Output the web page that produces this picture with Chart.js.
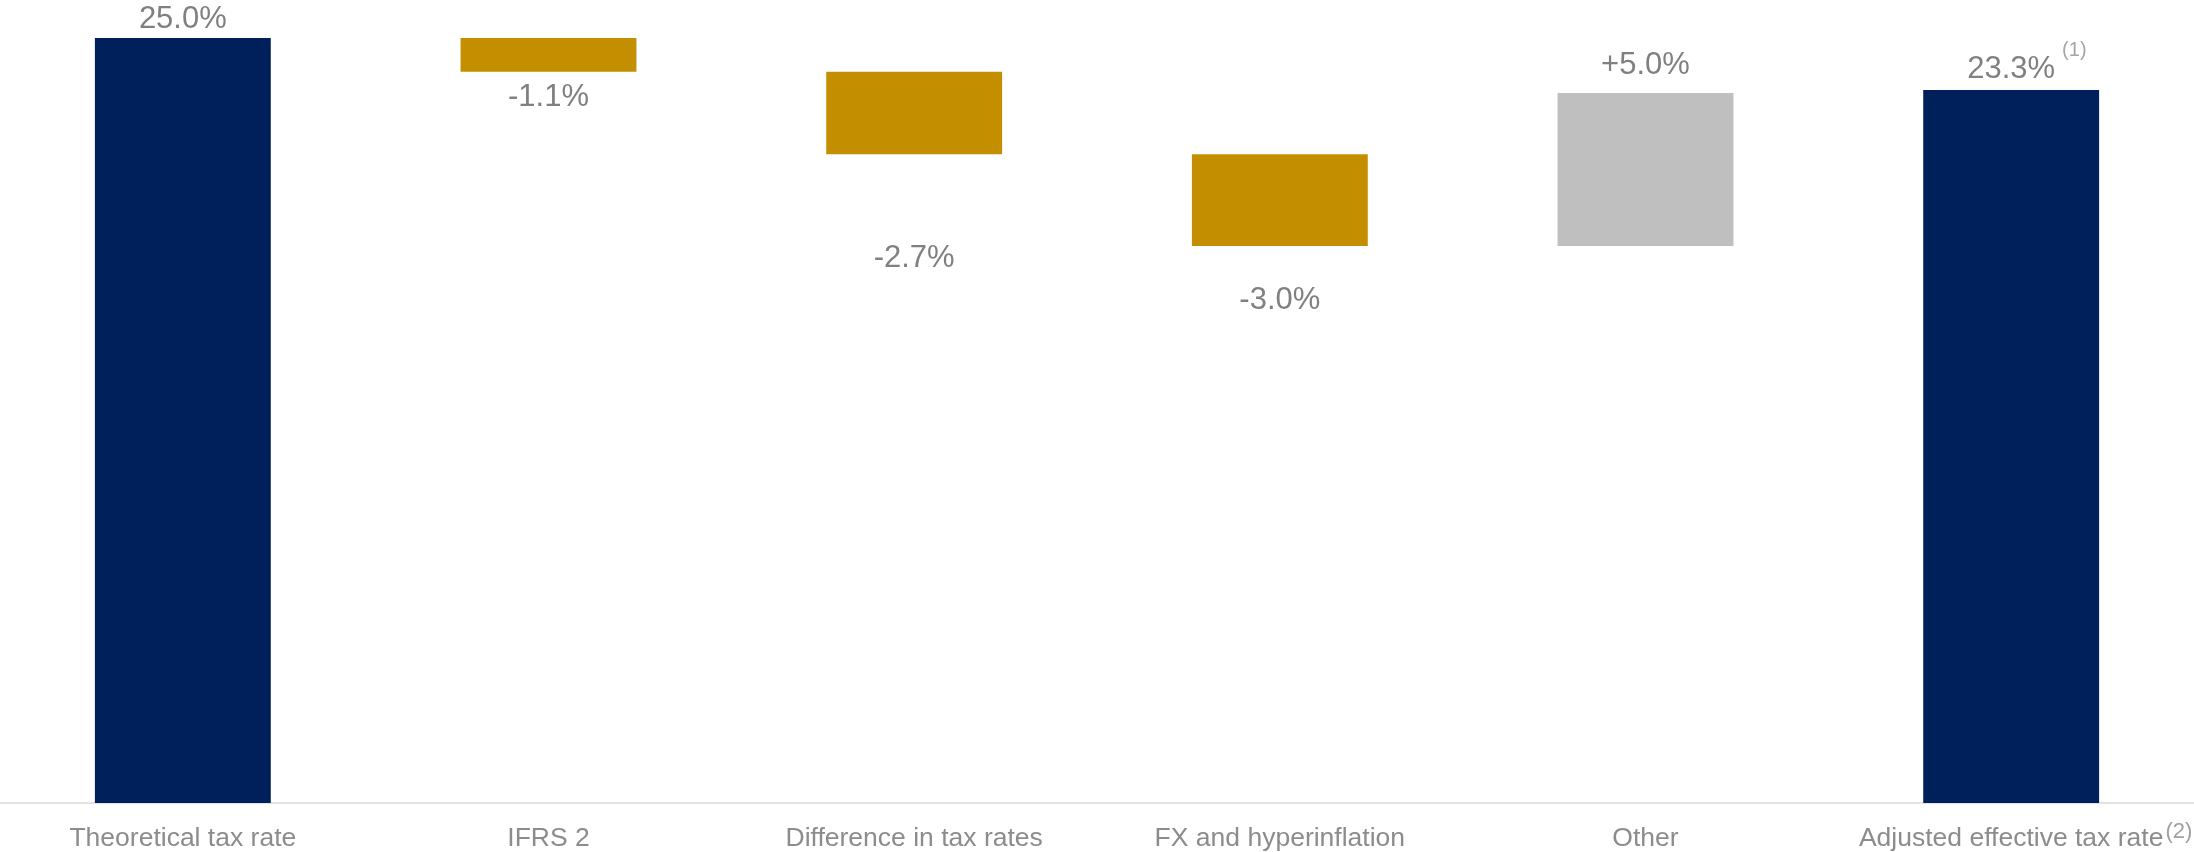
<!DOCTYPE html>
<html>
<head>
<meta charset="utf-8">
<title>Tax rate bridge</title>
<script src="https://cdn.jsdelivr.net/npm/chart.js@4/dist/chart.umd.min.js"></script>
<style>
  html, body { margin: 0; padding: 0; background: #ffffff; }
  canvas { display: block; }
</style>
</head>
<body>
<canvas id="bridge" width="2194" height="852"></canvas>
<script>
// Bridge from theoretical to adjusted effective tax rate (percentage points)
const categories = [
  'Theoretical tax rate',
  'IFRS 2',
  'Difference in tax rates',
  'FX and hyperinflation',
  'Other',
  'Adjusted effective tax rate'
];
const steps = [25.0, -1.1, -2.7, -3.0, 5.0, 23.3];
const stepKinds = ['total', 'delta', 'delta', 'delta', 'delta', 'total'];
const valueNotes = ['', '', '', '', '', '(1)'];
const categoryNotes = ['', '', '', '', '', '(2)'];

const FONT = '"Liberation Sans", Arial, Helvetica, sans-serif';
const NAVY = '#00205B';
const GOLD = '#C38F00';
const GREY = '#BFBFBF';
const TICK_SIZE = 26.5;

// Floating ranges: totals start from zero, deltas start from the running level
const ranges = [];
let level = 0;
steps.forEach((v, i) => {
  if (stepKinds[i] === 'total') {
    ranges.push([0, v]);
    level = v;
  } else {
    ranges.push([level, level + v]);
    level = +(level + v).toFixed(1);
  }
});

const barColors = steps.map((v, i) =>
  stepKinds[i] === 'total' ? NAVY : (v < 0 ? GOLD : GREY));

function formatStep(i) {
  const v = steps[i];
  if (stepKinds[i] === 'total') return v.toFixed(1) + '%';
  return (v > 0 ? '+' : '') + v.toFixed(1) + '%';
}

// Value labels above (totals, increases) or below (decreases) each bar
const valueLabels = {
  id: 'valueLabels',
  afterDatasetsDraw(chart, args, opts) {
    const ctx = chart.ctx;
    const meta = chart.getDatasetMeta(0);
    meta.data.forEach((bar, i) => {
      const top = Math.min(bar.y, bar.base);
      const bottom = Math.max(bar.y, bar.base);
      const below = stepKinds[i] === 'delta' && steps[i] < 0;
      const y = below ? bottom + opts.gaps[i] : top - opts.gaps[i];
      const text = formatStep(i);
      ctx.save();
      ctx.font = opts.size + 'px ' + FONT;
      ctx.fillStyle = opts.color;
      ctx.textAlign = 'center';
      ctx.textBaseline = 'alphabetic';
      ctx.fillText(text, bar.x, y);
      if (valueNotes[i]) {
        const w = ctx.measureText(text).width;
        ctx.font = opts.noteSize + 'px ' + FONT;
        ctx.fillStyle = opts.noteColor;
        ctx.textAlign = 'left';
        ctx.fillText(valueNotes[i], bar.x + w / 2 + 7, y - opts.noteRaise);
      }
      ctx.restore();
    });
  }
};

// Footnote markers after category labels
const categoryMarks = {
  id: 'categoryMarks',
  afterDraw(chart, args, opts) {
    const ctx = chart.ctx;
    const scale = chart.scales.x;
    ctx.save();
    categoryNotes.forEach((note, i) => {
      if (!note) return;
      ctx.font = TICK_SIZE + 'px ' + FONT;
      const w = ctx.measureText(categories[i]).width;
      const x = scale.getPixelForTick(i) + w / 2 + 2;
      ctx.font = opts.noteSize + 'px ' + FONT;
      ctx.fillStyle = opts.noteColor;
      ctx.textAlign = 'left';
      ctx.textBaseline = 'alphabetic';
      ctx.fillText(note, x, opts.baseline);
    });
    ctx.restore();
  }
};

new Chart(document.getElementById('bridge'), {
  type: 'bar',
  data: {
    labels: categories,
    datasets: [{
      data: ranges,
      backgroundColor: barColors,
      borderWidth: 0,
      categoryPercentage: 1.0,
      barPercentage: 0.481
    }]
  },
  options: {
    responsive: false,
    animation: false,
    layout: { padding: { top: 38, left: 0, right: 0, bottom: 0 } },
    plugins: {
      legend: { display: false },
      tooltip: { enabled: false },
      valueLabels: {
        size: 31,
        color: '#808080',
        gaps: [10, 34, 113, 63, 19, 12],
        noteSize: 20,
        noteColor: '#a6a6a6',
        noteRaise: 22
      },
      categoryMarks: {
        noteSize: 22,
        noteColor: '#a0a0a0',
        baseline: 838
      }
    },
    scales: {
      x: {
        grid: { display: false, drawTicks: false },
        border: { display: true, color: '#e3e3e3', width: 2 },
        ticks: {
          color: '#8c8c8c',
          font: { family: FONT, size: TICK_SIZE },
          padding: 20,
          maxRotation: 0,
          autoSkip: false
        },
        afterFit(scale) { scale.height = 49; }
      },
      y: {
        display: false,
        min: 0,
        max: 25
      }
    }
  },
  plugins: [valueLabels, categoryMarks]
});
</script>
</body>
</html>
